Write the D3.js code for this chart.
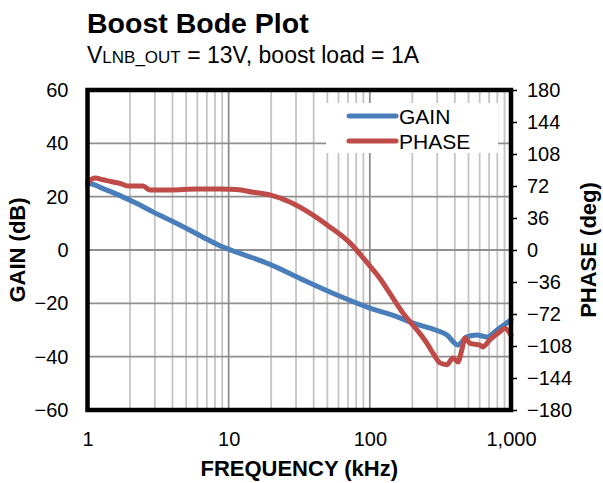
<!DOCTYPE html>
<html>
<head>
<meta charset="utf-8">
<script src="https://cdn.jsdelivr.net/npm/d3@7"></script>
<style>
  html, body { margin: 0; padding: 0; background: #fff; }
  svg { display: block; font-family: "Liberation Sans", Arial, sans-serif; }
</style>
</head>
<body>
<svg id="chart" width="603" height="483"></svg>
<script>
// Gain (dB) vs frequency (kHz)
const gainFreq = [1.0, 1.04, 1.29, 1.70, 2.24, 2.91, 3.84, 5.07, 6.58, 8.66, 11.4, 14.9, 19.6, 33.6, 58.5, 100, 155, 202, 267, 352, 421, 487, 573, 675, 795, 1000];
const gainDb   = [24.5, 24.8, 23.0, 20.4, 17.4, 14.3, 11.2, 8.0, 4.8, 1.6, -0.8, -3.0, -5.4, -11.2, -16.9, -21.8, -25.0, -27.4, -29.3, -31.9, -35.6, -32.6, -31.9, -32.6, -30.0, -26.2];

// Phase (deg) vs frequency (kHz)
const phaseFreq = [1.0, 1.13, 1.29, 1.52, 1.70, 1.93, 2.24, 2.47, 2.77, 3.84, 5.96, 8.66, 11.4, 14.9, 19.6, 27.1, 37.6, 52.1, 72.2, 95.4, 118, 139, 172, 216, 254, 280, 314, 352, 388, 421, 449, 472, 512, 602, 632, 709, 834, 905, 1000];
const phaseDeg  = [76, 81, 79, 76.5, 75, 72, 72, 72, 67.5, 67.5, 68.5, 68.5, 68, 65, 62, 54, 41.6, 26, 8, -14, -32, -49, -71, -90, -105, -116, -127, -129, -121.5, -126, -112, -99, -105, -107, -109, -101, -92, -88, -96];

const gainTicks  = [-60, -40, -20, 0, 20, 40, 60];
const phaseTicks = [-180, -144, -108, -72, -36, 0, 36, 72, 108, 144, 180];
const freqTicks  = [1, 10, 100, 1000];

const legendItems = [
  { name: "GAIN",  color: "#4a7ebb" },
  { name: "PHASE", color: "#be4b48" }
];

const svg = d3.select("#chart");
const plot = { left: 87.5, right: 511, top: 90, bottom: 410 };

const x = d3.scaleLog().domain([1, 1000]).range([plot.left, plot.right]);
const yGain = d3.scaleLinear().domain([-60, 60]).range([plot.bottom, plot.top]);
const yPhase = d3.scaleLinear().domain([-180, 180]).range([plot.bottom, plot.top]);

// Gridlines: minor verticals, decade verticals, horizontal gain lines
const minorFreqs = [];
for (const dec of [1, 10, 100]) for (let m = 2; m <= 9; m++) minorFreqs.push(dec * m);
const grid = svg.append("g");
grid.selectAll("line.minor").data(minorFreqs).join("line")
  .attr("x1", d => x(d)).attr("x2", d => x(d))
  .attr("y1", plot.top).attr("y2", plot.bottom)
  .attr("stroke", "#c4c4c4").attr("stroke-width", 1.8);
grid.selectAll("line.decade").data([10, 100]).join("line")
  .attr("x1", d => x(d)).attr("x2", d => x(d))
  .attr("y1", plot.top).attr("y2", plot.bottom)
  .attr("stroke", "#8f8f8f").attr("stroke-width", 1.8);
grid.selectAll("line.h").data(gainTicks.filter(d => d > -60 && d < 60)).join("line")
  .attr("x1", plot.left).attr("x2", plot.right)
  .attr("y1", d => yGain(d)).attr("y2", d => yGain(d))
  .attr("stroke", "#8f8f8f").attr("stroke-width", 1.8);

// Legend box (white, sits over the grid)
const legend = svg.append("g");
legend.append("rect")
  .attr("x", 326).attr("y", 103).attr("width", 172).attr("height", 50)
  .attr("fill", "#fff");
legendItems.forEach((it, i) => {
  const ly = 116 + i * 25;
  legend.append("line")
    .attr("x1", 349).attr("x2", 396).attr("y1", ly).attr("y2", ly)
    .attr("stroke", it.color).attr("stroke-width", 5).attr("stroke-linecap", "round");
  legend.append("text")
    .attr("x", 399).attr("y", ly).attr("dy", "0.36em")
    .attr("font-size", 21).attr("fill", "#000").text(it.name);
});

// Curves
const gainData = gainFreq.map((f, i) => [f, gainDb[i]]);
const phaseData = phaseFreq.map((f, i) => [f, phaseDeg[i]]);
const gainLine = d3.line().x(d => x(d[0])).y(d => yGain(d[1])).curve(d3.curveMonotoneX);
const phaseLine = d3.line().x(d => x(d[0])).y(d => yPhase(d[1])).curve(d3.curveMonotoneX);

svg.append("path").datum(gainData).attr("d", gainLine)
  .attr("fill", "none").attr("stroke", legendItems[0].color)
  .attr("stroke-width", 5).attr("stroke-linejoin", "round").attr("stroke-linecap", "round");
svg.append("path").datum(phaseData).attr("d", phaseLine)
  .attr("fill", "none").attr("stroke", legendItems[1].color)
  .attr("stroke-width", 5).attr("stroke-linejoin", "round").attr("stroke-linecap", "round");

// Frame
svg.append("rect")
  .attr("x", plot.left).attr("y", plot.top)
  .attr("width", plot.right - plot.left).attr("height", plot.bottom - plot.top)
  .attr("fill", "none").attr("stroke", "#000").attr("stroke-width", 4.5);

// Axes
const leftAxis = svg.append("g").attr("transform", `translate(${plot.left - 2},0)`)
  .call(d3.axisLeft(yGain).tickValues(gainTicks).tickSize(0).tickPadding(17));
const rightAxis = svg.append("g").attr("transform", `translate(${plot.right},0)`)
  .call(d3.axisRight(yPhase).tickValues(phaseTicks).tickSize(6).tickPadding(10));
const bottomAxis = svg.append("g").attr("transform", `translate(0,${plot.bottom})`)
  .call(d3.axisBottom(x).tickValues(freqTicks).tickFormat(d3.format(",")).tickSize(0).tickPadding(22));

[leftAxis, rightAxis, bottomAxis].forEach(a => {
  a.select(".domain").remove();
  a.selectAll("text").attr("font-size", 20).attr("fill", "#000")
    .attr("font-family", "'Liberation Sans', Arial, sans-serif");
});
rightAxis.selectAll("line").attr("stroke", "#000").attr("stroke-width", 1.5);

// Titles
svg.append("text").attr("x", 87).attr("y", 33)
  .attr("font-size", 28.5).attr("font-weight", "bold").text("Boost Bode Plot");
const sub = svg.append("text").attr("x", 87).attr("y", 63).attr("font-size", 23);
sub.append("tspan").text("V");
sub.append("tspan").attr("font-size", 17).text("LNB_OUT");
sub.append("tspan").text(" = 13V, boost load = 1A");

svg.append("text")
  .attr("transform", `translate(25,${(plot.top + plot.bottom) / 2}) rotate(-90)`)
  .attr("text-anchor", "middle").attr("font-size", 22).attr("font-weight", "bold")
  .text("GAIN (dB)");
svg.append("text")
  .attr("transform", `translate(596,${(plot.top + plot.bottom) / 2}) rotate(-90)`)
  .attr("text-anchor", "middle").attr("font-size", 22).attr("font-weight", "bold")
  .text("PHASE (deg)");
svg.append("text")
  .attr("x", (plot.left + plot.right) / 2).attr("y", 476)
  .attr("text-anchor", "middle").attr("font-size", 22).attr("font-weight", "bold")
  .text("FREQUENCY (kHz)");
</script>
</body>
</html>
